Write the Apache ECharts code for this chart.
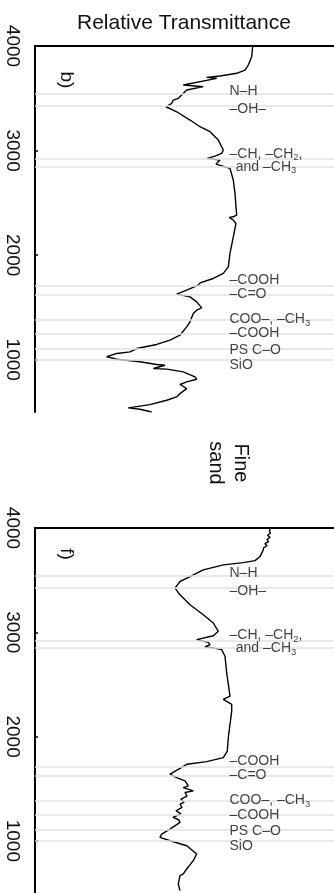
<!DOCTYPE html>
<html>
<head>
<meta charset="utf-8">
<script src="https://cdn.jsdelivr.net/npm/echarts@6/dist/echarts.min.js"></script>
<style>
  html, body { margin: 0; padding: 0; background: #fff; }
  #chart { width: 334px; height: 893px; }
</style>
</head>
<body>
<div id="chart"></div>
<script>
// FTIR spectra, wavenumber (cm-1) vs relative transmittance (arbitrary units)
// Panel b)
const wavenumberB = [4000, 3898, 3818, 3770, 3739, 3713, 3700, 3691, 3627, 3611, 3579, 3500, 3483, 3452, 3419,
  3371, 3292, 3228, 3180, 3100, 3005, 2973, 2947, 2925, 2909, 2871, 2852, 2830, 2718, 2590, 2462, 2383, 2367,
  2361, 2335, 2303, 2175, 2016, 1888, 1825, 1777, 1735, 1713, 1665, 1627, 1601, 1553, 1496, 1474, 1442, 1362,
  1314, 1234, 1187, 1146, 1107, 1075, 1060, 1028, 1005, 980, 954, 947, 916, 910, 884, 836, 813, 788, 763, 724,
  676, 644, 612, 571, 539, 526, 500];
const transB = [217.7, 216.7, 213.3, 210, 201.7, 185, 171.7, 181.7, 148.3, 168.3, 151.7, 143.3, 138.3, 136.7, 131,
  141.7, 155, 165, 175, 183.3, 188.3, 186.7, 180, 172.3, 185, 181, 187.7, 195, 198.3, 200, 201, 201.7, 198.3,
  194.3, 198.3, 201, 198.3, 195, 193.3, 188.3, 178.3, 165, 163.3, 151.7, 141.7, 155, 161.7, 166.7, 161.7, 158.3, 155,
  151.7, 145, 135, 121.7, 101.7, 95, 81.7, 71.7, 81.7, 105, 121.7, 130, 118.3, 131.7, 148.3, 160, 161.7, 151.7, 145, 151.7,
  145, 141.7, 131.7, 115, 93.3, 105, 116.7];

// Panel f)
const wavenumberF = [4000, 3970, 3950, 3930, 3910, 3890, 3870, 3850, 3830, 3810, 3790, 3726, 3687, 3668, 3646,
  3598, 3534, 3487, 3424, 3359, 3264, 3168, 3089, 3009, 2967, 2929, 2903, 2881, 2859, 2850, 2834, 2770, 2611,
  2387, 2356, 2308, 2244, 2117, 1989, 1861, 1798, 1760, 1734, 1696, 1639, 1607, 1575, 1527, 1511, 1479, 1464,
  1430, 1400, 1370, 1352, 1320, 1288, 1260, 1225, 1200, 1177, 1113, 1065, 1033, 1001, 953, 874, 810, 730, 683,
  667, 651, 587, 523];
const transF = [235, 234.5, 235.5, 232.5, 235, 232, 233.5, 230, 232, 228.5, 228.3, 225, 220, 208.3, 188.3,
  168.3, 155, 145, 140, 145, 155, 168.3, 178.3, 183.3, 178.3, 161.7, 173.3, 175, 170, 178.3, 186.7, 190, 191.7,
  195, 188.3, 196.7, 196.7, 195, 193.3, 192.3, 188.3, 171.7, 151.7, 145, 135, 141.7, 150, 153.3, 148.3, 158.3, 150,
  152, 146, 149, 145, 147, 141, 146, 138, 144, 145, 135, 126.7, 125, 135, 151.7, 161.7, 158.3, 151.7, 148.3,
  145, 146.7, 143.3, 145];

// Axis ticks
const tickValues = [1000, 2000, 3000, 4000];

// Absorption band positions (cm-1)
const bandLines = [3545, 3425, 2920, 2850, 1710, 1625, 1385, 1250, 1105, 1000];

// Band assignments and where each is written
const bandLabels = ['N–H', '–OH–', '{m|–CH, –CH}{sub|2}{m|,}\n{m|and –CH}{sub|3}', '–COOH', '–C=O',
  '{m|COO–, –CH}{sub|3}', '–COOH', 'PS C–O', 'SiO'];
const bandLabelWavenumbers = [3560, 3392, 2902, 1758, 1625, 1382, 1246, 1084, 940];

const panelLetters = ['b)', 'f)'];

const FONT = 'Liberation Sans, Arial, sans-serif';
const chart = echarts.init(document.getElementById('chart'), null, { renderer: 'canvas' });

const panels = [
  { top: 46, wn: wavenumberB, t: transB },
  { top: 528, wn: wavenumberF, t: transF }
];

const grid = [], xAxis = [], yAxis = [], series = [];
panels.forEach((p, i) => {
  grid.push({ left: 35, top: p.top, width: 299, height: 366 });
  xAxis.push({
    gridIndex: i, type: 'value', position: 'top', min: 0, max: 299,
    axisLine: { show: true, onZero: false, lineStyle: { color: '#000', width: 2 } },
    axisTick: { show: false }, axisLabel: { show: false }, splitLine: { show: false }
  });
  yAxis.push({
    gridIndex: i, type: 'value', min: 500, max: 4000,
    axisLine: { show: true, onZero: false, lineStyle: { color: '#000', width: 2 } },
    axisTick: { show: true, inside: true, length: 3, customValues: tickValues, lineStyle: { color: '#000', width: 1.5 } },
    axisLabel: {
      customValues: tickValues, rotate: -90, fontSize: 19, color: '#111', margin: 13, fontFamily: FONT,
      formatter: v => String(v)
    },
    splitLine: { show: false }
  });
  series.push({
    type: 'line', xAxisIndex: i, yAxisIndex: i, z: 3,
    data: p.wn.map((w, k) => [p.t[k], w]),
    showSymbol: false, symbol: 'none', silent: true,
    lineStyle: { color: '#000', width: 1.4 }
  });
  series.push({
    type: 'line', xAxisIndex: i, yAxisIndex: i, z: 4, data: [], silent: true,
    markLine: {
      silent: true, symbol: 'none', animation: false,
      label: { show: false },
      lineStyle: { color: '#e2e2e2', width: 1.5, type: 'solid' },
      data: bandLines.map(v => ({ yAxis: v }))
    }
  });
  series.push({
    type: 'scatter', xAxisIndex: i, yAxisIndex: i, z: 5, silent: true,
    symbolSize: 1, itemStyle: { color: 'rgba(0,0,0,0)' },
    data: bandLabels.map((txt, k) => {
      const multi = txt.indexOf('\n') >= 0;
      return {
        value: [multi ? 231.5 : 195, bandLabelWavenumbers[k]],
        label: { formatter: txt, align: multi ? 'center' : 'left' }
      };
    }),
    label: {
      show: true, position: [0, 0], verticalAlign: 'middle',
      fontSize: 14, fontFamily: FONT, color: '#111', lineHeight: 13,
      rich: {
        m: { fontSize: 14, fontFamily: FONT, color: '#111', lineHeight: 13 },
        sub: { fontSize: 9.5, fontFamily: FONT, color: '#111', lineHeight: 5, padding: [8, 0, 0, 0] }
      }
    }
  });
});

const graphic = [
  {
    type: 'text', x: 66, y: 80, rotation: -Math.PI / 2,
    style: { text: panelLetters[0], font: '19px ' + FONT, fill: '#111', align: 'center', verticalAlign: 'middle' }
  },
  {
    type: 'text', x: 66, y: 554, rotation: -Math.PI / 2,
    style: { text: panelLetters[1], font: '19px ' + FONT, fill: '#111', align: 'center', verticalAlign: 'middle' }
  },
  {
    type: 'text', x: 228, y: 463, rotation: -Math.PI / 2,
    style: { text: 'Fine\nsand', font: '20px ' + FONT, lineHeight: 25, fill: '#111', align: 'center', verticalAlign: 'middle' }
  }
];

chart.setOption({
  animation: false,
  backgroundColor: '#fff',
  title: {
    text: 'Relative Transmittance', left: 72, top: 8,
    textStyle: { fontSize: 21, fontWeight: 'normal', color: '#111', fontFamily: FONT }
  },
  grid, xAxis, yAxis, series, graphic
});
</script>
</body>
</html>
